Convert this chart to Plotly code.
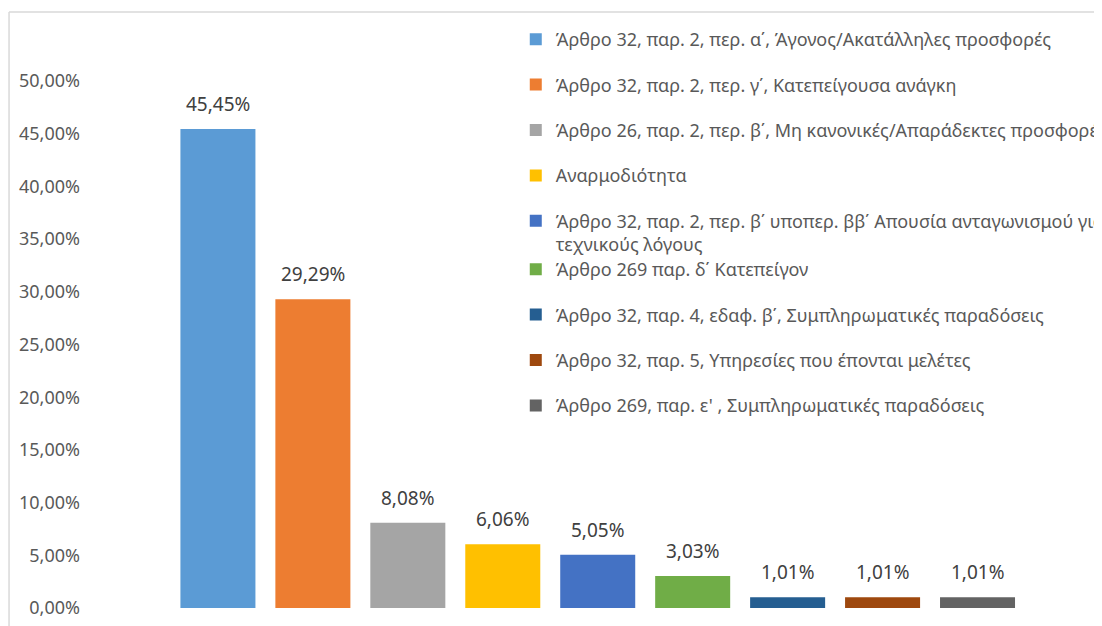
import plotly.graph_objects as go

categories = [
    "Άρθρο 32, παρ. 2, περ. α΄, Άγονος/Ακατάλληλες προσφορές",
    "Άρθρο 32, παρ. 2, περ. γ΄, Κατεπείγουσα ανάγκη",
    "Άρθρο 26, παρ. 2, περ. β΄, Μη κανονικές/Απαράδεκτες προσφορές",
    "Αναρμοδιότητα",
    "Άρθρο 32, παρ. 2, περ. β΄ υποπερ. ββ΄ Απουσία ανταγωνισμού για<br>τεχνικούς λόγους",
    "Άρθρο 269 παρ. δ΄ Κατεπείγον",
    "Άρθρο 32, παρ. 4, εδαφ. β΄, Συμπληρωματικές παραδόσεις",
    "Άρθρο 32, παρ. 5, Υπηρεσίες που έπονται μελέτες",
    "Άρθρο 269, παρ. ε' , Συμπληρωματικές παραδόσεις",
]
values = [0.4545, 0.2929, 0.0808, 0.0606, 0.0505, 0.0303, 0.0101, 0.0101, 0.0101]
colors = ["#5B9BD5", "#ED7D31", "#A5A5A5", "#FFC000", "#4472C4",
          "#70AD47", "#255E91", "#9E480E", "#636363"]
y_ticks = [0, 0.05, 0.10, 0.15, 0.20, 0.25, 0.30, 0.35, 0.40, 0.45, 0.50]

FONT = "Noto Sans"
W, H = 1102, 626
L, R, T, B = 73, 84.5, 73, 26
pw = W - L - R
ph = H - T - B

def px_x(p):
    return (p - L) / pw

def px_y(p):
    return (H - B - p) / ph

fig = go.Figure()
for i, (name, v, c) in enumerate(zip(categories, values, colors)):
    fig.add_trace(go.Bar(
        x=[i], y=[v], name=name, marker_color=c, marker_line_width=0,
        legendgroup=str(i), legend="legend" if i < 5 else "legend2",
        hovertemplate="%{y:.2%}<extra></extra>",
    ))
    fig.add_annotation(x=i, y=v, text=f"{v*100:.2f}%".replace(".", ","),
                       showarrow=False, yanchor="bottom", yshift=10,
                       font=dict(family=FONT, size=19, color="#404040"))

# chart border (only top / left edges are in view)
fig.add_shape(type="line", xref="paper", yref="paper",
              x0=px_x(1), x1=px_x(1110), y0=px_y(4), y1=px_y(4),
              line=dict(color="#D9D9D9", width=1.5))
fig.add_shape(type="line", xref="paper", yref="paper",
              x0=px_x(1), x1=px_x(1), y0=px_y(4), y1=px_y(640),
              line=dict(color="#D9D9D9", width=1.5))

leg = dict(font=dict(family=FONT, size=18, color="#595959"),
           xanchor="left", yanchor="top",
           bgcolor="rgba(0,0,0,0)", tracegroupgap=19, valign="top",
           itemclick=False)
fig.update_layout(
    width=W, height=H,
    margin=dict(l=L, r=R, t=T, b=B, autoexpand=False),
    paper_bgcolor="white", plot_bgcolor="white",
    separators=",.",
    barmode="overlay", bargap=0.21,
    showlegend=True,
    legend=dict(leg, x=px_x(508), y=px_y(13)),
    legend2=dict(leg, x=px_x(508), y=px_y(243)),
    xaxis=dict(range=[-0.5 - 89.5 / 95, 8.5], showticklabels=False,
               showgrid=False, zeroline=False, showline=False, ticks=""),
    yaxis=dict(range=[0, 0.5], tickvals=y_ticks, tickformat=".2%",
               showgrid=False, zeroline=False, showline=False, ticks="",
               tickfont=dict(family=FONT, size=18, color="#595959")),
)

fig.write_html("out.html")
